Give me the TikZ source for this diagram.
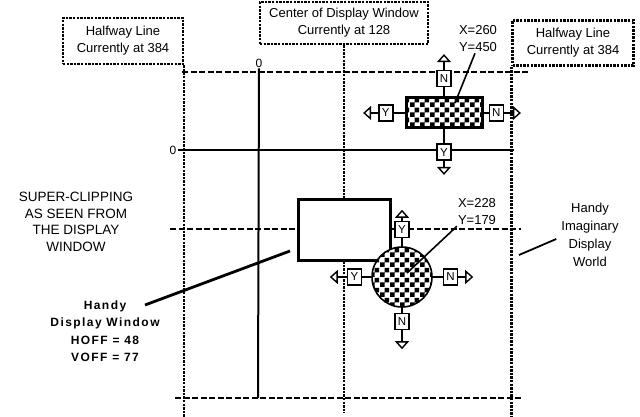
\documentclass[tikz,border=0pt]{standalone}
\usepackage{fontspec}
\setmainfont{Liberation Sans}
\newfontfamily\widefont[LetterSpace=12]{Liberation Sans}
\usetikzlibrary{arrows.meta,positioning,patterns}
\pgfdeclarepatternformonly{checkers}{\pgfpointorigin}{\pgfqpoint{10pt}{10pt}}{\pgfqpoint{10pt}{10pt}}{%
  \pgfpathrectangle{\pgfpointorigin}{\pgfqpoint{5pt}{5pt}}%
  \pgfpathrectangle{\pgfqpoint{5pt}{5pt}}{\pgfqpoint{5pt}{5pt}}%
  \pgfusepath{fill}}
\tikzset{
  note/.style={align=center, font=\fontsize{13}{17}\selectfont, inner sep=1pt},
  tag/.style={note, draw, dash pattern=on 2.4pt off 1.2pt, line width=2.4pt, inner sep=0pt},
  sprite/.style={draw, line width=3pt, preaction={fill=white}, pattern=checkers, inner sep=0pt},
  handle/.style={draw, line width=1.4pt, fill=white, font=\fontsize{11.5}{11.5}\selectfont, minimum width=14pt, minimum height=16pt, inner sep=0pt},
  grip/.style={line width=1.4pt, -{Triangle[open, length=8pt, width=14pt, line width=1.4pt]}},
  stem/.style={line width=1.4pt},
  limit/.style={dash pattern=on 2.4pt off 1.2pt, line width=2.4pt},
  rim/.style={dash pattern=on 6pt off 2.5pt, line width=2.2pt},
  zeroline/.style={line width=2pt},
  leader/.style={line width=1.6pt}
}
\begin{document}
\begin{tikzpicture}[x=1pt, y=-1pt]
  \useasboundingbox (0,0) rectangle (640,417);
  % labels of the halfway lines and the window centre
  \node[tag, minimum width=120pt, minimum height=46pt] (halfL) at (123,41) {Halfway Line\\Currently at 384};
  \node[tag, minimum width=168pt, minimum height=42pt] (mid) at (344,23) {Center of Display Window\\Currently at 128};
  \node[tag, minimum width=121pt, minimum height=45pt] (halfR) at (573,43) {Halfway Line\\Currently at 384};
  % dotted limits
  \coordinate (v1) at (halfL.south east |- 0,417);
  \coordinate (v2) at (mid.south |- 0,413);
  \coordinate (v3) at (halfR.south west |- 0,417);
  \draw[limit] (halfL.south east) -- (v1);
  \draw[limit] (mid) -- (v2);
  \draw[limit] (halfR.south west) -- (v3);
  % dashed edges of the world
  \coordinate (t1) at (182,72); \coordinate (t2) at (528,72);
  \coordinate (m1) at (170,229); \coordinate (m2) at (521,229);
  \coordinate (b1) at (175,398); \coordinate (b2) at (523,398);
  \draw[rim] (t1) -- (t2);
  \draw[rim] (m1) -- (m2);
  \draw[rim] (b1) -- (b2);
  % zero lines
  \node[note, font=\fontsize{12}{12}\selectfont] (zx) at (259,63) {0};
  \node[note, font=\fontsize{12}{12}\selectfont] (zy) at (173,150) {0};
  \coordinate (zxb) at (258,398);
  \coordinate (zye) at (514,150);
  \draw[zeroline] (zx) -- (zxb);
  \draw[zeroline] (zy) -- (zye);
  % display window
  \node[draw, line width=3.2pt, fill=white, minimum width=92pt, minimum height=61pt] (win) at (344.5,230) {};
  % block sprite
  \node[sprite, minimum width=76pt, minimum height=30pt] (blockA) at (444,113) {};
  \node[handle, above=9pt of blockA] (aN) {N};
  \node[handle, left=11pt of blockA] (aY) {Y};
  \node[handle, right=5pt of blockA] (aE) {N};
  \node[handle, below=14pt of blockA] (aS) {Y};
  \coordinate (aNt) at ([yshift=16pt]aN.north);
  \coordinate (aYt) at ([xshift=-15pt]aY.west);
  \coordinate (aEt) at ([xshift=17pt]aE.east);
  \coordinate (aSt) at ([yshift=-14pt]aS.south);
  \foreach \h in {aN,aY,aE,aS} {
    \draw[stem] (\h) -- (blockA);
    \draw[grip] (\h) -- (\h t);
  }
  % ball sprite
  \node[sprite, circle, line width=1.6pt, minimum size=60pt] (blockB) at (402,277) {};
  \node[handle, above=8pt of blockB] (bY) {Y};
  \node[handle, right=10pt of blockB] (bE) {N};
  \node[handle, left=9pt of blockB] (bW) {Y};
  \node[handle, below=5pt of blockB] (bS) {N};
  \coordinate (bYt) at ([yshift=11pt]bY.north);
  \coordinate (bEt) at ([xshift=15pt]bE.east);
  \coordinate (bWt) at ([xshift=-17pt]bW.west);
  \coordinate (bSt) at ([yshift=-19pt]bS.south);
  \foreach \h in {bY,bE,bW,bS} {
    \draw[stem] (\h) -- (blockB);
    \draw[grip] (\h) -- (\h t);
  }
  % positions
  \node[note] (posA) at (478,39) {X=260\\Y=450};
  \node[note] (posB) at (477,212) {X=228\\Y=179};
  \coordinate (pinA) at (455,103);
  \coordinate (pinB) at (407,273);
  \draw[leader] ([xshift=-3pt]posA.south) -- (pinA);
  \draw[leader] (posB.south west) -- (pinB);
  % side notes
  \node[note, font=\fontsize{13.5}{16.5}\selectfont] (clip) at (76,222) {SUPER-CLIPPING\\AS SEEN FROM\\THE DISPLAY\\WINDOW};
  \node[note, font={\widefont\bfseries\fontsize{12}{17.5}\selectfont}] (dispnote) at (105,331) {Handy\\Display Window\\HOFF = 48\\VOFF = 77};
  \coordinate (handyEnd) at (145,305);
  \coordinate (pinW) at (290,251);
  \draw[leader, line width=2.8pt] (handyEnd) -- (pinW);
  \node[note, font=\fontsize{13}{18}\selectfont] (world) at (590,235) {Handy\\Imaginary\\Display\\World};
  \coordinate (worldPin) at (519,255);
  \draw[leader, line width=1.8pt] ([xshift=-4pt,yshift=-4pt]world.west) -- (worldPin);
\end{tikzpicture}
\end{document}
